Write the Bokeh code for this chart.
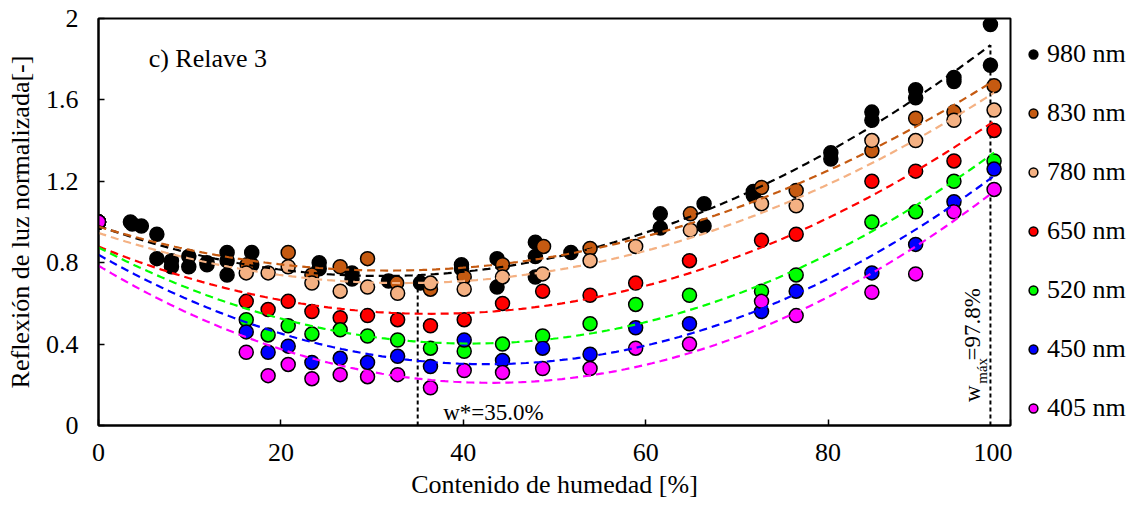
import numpy as np
from bokeh.plotting import figure
from bokeh.layouts import row
from bokeh.models import Legend, LegendItem, CustomJSTickFormatter
from bokeh.core.properties import value
from bokeh.embed import file_html
from bokeh.resources import INLINE

FONT = "Liberation Serif"

series_names = ["980 nm", "830 nm", "780 nm", "650 nm", "520 nm", "450 nm", "405 nm"]
series_colors = ["#000000", "#C55A11", "#F4B183", "#FF0000", "#00FF00", "#0000FF", "#FF00FF"]

x_980 = [0, 3.5, 3.7, 4.7, 6.4, 6.4, 8.0, 8.0, 9.9, 9.9, 11.9, 11.9, 14.1, 14.1, 14.1, 16.8, 16.8,
         24.2, 24.2, 27.8, 27.8, 31.8, 35.3, 39.8, 39.8, 43.7, 43.7, 47.9, 47.9, 47.9, 51.8,
         61.6, 61.6, 66.4, 66.4, 71.8, 71.8, 80.3, 80.3, 84.8, 84.8, 89.6, 89.6, 93.8, 93.8, 97.8, 97.8]
y_980 = [1.0, 1.0, 0.99, 0.98, 0.94, 0.82, 0.81, 0.78, 0.83, 0.78, 0.80, 0.79, 0.85, 0.81, 0.74, 0.85, 0.79,
         0.80, 0.77, 0.75, 0.72, 0.71, 0.70, 0.79, 0.77, 0.82, 0.68, 0.90, 0.83, 0.73, 0.85,
         1.04, 0.97, 1.09, 0.98, 1.15, 1.13, 1.34, 1.31, 1.54, 1.50, 1.65, 1.61, 1.71, 1.69, 1.97, 1.77]

x_830 = [0, 16.3, 20.8, 23.4, 26.5, 29.5, 32.7, 36.4, 40.1, 44.3, 48.8, 53.9, 64.9, 72.7, 76.5, 84.8, 89.6, 93.8, 98.2]
y_830 = [1.0, 0.79, 0.85, 0.74, 0.78, 0.82, 0.70, 0.67, 0.73, 0.79, 0.88, 0.87, 1.04, 1.17, 1.155, 1.35, 1.51, 1.54, 1.67]

x_780 = [0, 16.2, 18.6, 20.8, 23.4, 26.5, 29.5, 32.8, 36.4, 40.1, 44.3, 48.7, 53.9, 58.9, 64.9, 72.7, 76.5, 84.8, 89.6, 93.8, 98.2]
y_780 = [1.0, 0.75, 0.75, 0.78, 0.70, 0.66, 0.68, 0.65, 0.70, 0.67, 0.73, 0.745, 0.81, 0.88, 0.96, 1.09, 1.08, 1.40, 1.40, 1.50, 1.55]

x_650 = [0, 16.2, 18.6, 20.8, 23.4, 26.5, 29.5, 32.8, 36.4, 40.1, 44.3, 48.7, 53.9, 58.9, 64.8, 72.7, 76.5, 84.8, 89.6, 93.8, 98.2]
y_650 = [1.0, 0.61, 0.57, 0.61, 0.56, 0.53, 0.54, 0.52, 0.49, 0.52, 0.60, 0.66, 0.64, 0.70, 0.81, 0.91, 0.94, 1.20, 1.25, 1.30, 1.45]

x_520 = [0, 16.2, 18.6, 20.8, 23.4, 26.5, 29.5, 32.8, 36.4, 40.1, 44.3, 48.7, 53.9, 58.9, 64.8, 72.7, 76.5, 84.8, 89.6, 93.8, 98.2]
y_520 = [1.0, 0.52, 0.445, 0.49, 0.45, 0.47, 0.44, 0.42, 0.38, 0.365, 0.40, 0.44, 0.50, 0.595, 0.64, 0.66, 0.74, 1.00, 1.05, 1.20, 1.30]

x_450 = [0, 16.2, 18.6, 20.8, 23.4, 26.5, 29.5, 32.8, 36.4, 40.1, 44.3, 48.7, 53.9, 58.9, 64.8, 72.7, 76.5, 84.8, 89.6, 93.8, 98.2]
y_450 = [1.0, 0.46, 0.36, 0.39, 0.31, 0.33, 0.31, 0.34, 0.29, 0.42, 0.32, 0.38, 0.35, 0.48, 0.50, 0.56, 0.66, 0.75, 0.89, 1.10, 1.26]

x_405 = [0, 16.2, 18.6, 20.8, 23.4, 26.5, 29.5, 32.8, 36.4, 40.1, 44.3, 48.7, 53.9, 58.9, 64.8, 72.7, 76.5, 84.8, 89.6, 93.8, 98.2]
y_405 = [1.0, 0.36, 0.245, 0.30, 0.23, 0.25, 0.24, 0.25, 0.185, 0.27, 0.26, 0.28, 0.28, 0.38, 0.40, 0.61, 0.54, 0.655, 0.745, 1.05, 1.16]

xs_all = [x_980, x_830, x_780, x_650, x_520, x_450, x_405]
ys_all = [y_980, y_830, y_780, y_650, y_520, y_450, y_405]

x_ticks = [0, 20, 40, 60, 80, 100]
y_ticks = [0, 0.4, 0.8, 1.2, 1.6, 2.0]

w_star = 35.0
w_max = 97.8

p = figure(width=1012, height=510, x_range=(0, 100), y_range=(0, 2),
           output_backend="svg", toolbar_location=None,
           min_border_left=98, min_border_right=2, min_border_top=18, min_border_bottom=85)
p.grid.visible = False
p.outline_line_color = "black"
p.outline_line_width = 2
p.background_fill_color = "white"

for ax in (p.xaxis[0], p.yaxis[0]):
    ax.axis_line_color = "black"
    ax.axis_line_width = 2
    ax.major_tick_in = 6
    ax.major_tick_out = 0
    ax.major_tick_line_width = 1.5
    ax.minor_tick_line_color = None
    ax.major_label_text_font = FONT
    ax.major_label_text_font_size = "26px"
    ax.major_label_text_color = "black"
    ax.axis_label_text_font = FONT
    ax.axis_label_text_font_size = "26px"
    ax.axis_label_text_font_style = "normal"
    ax.axis_label_text_color = "black"

p.xaxis.ticker = x_ticks
p.yaxis.ticker = y_ticks
p.yaxis.formatter = CustomJSTickFormatter(code="return tick.toFixed(1).replace(/\\.0$/, '');")
p.xaxis.axis_label = "Contenido de humedad [%]"
p.yaxis.axis_label = "Reflexión de luz normalizada[-]"
p.xaxis.major_label_standoff = 18
p.xaxis.axis_label_standoff = 6
p.yaxis.major_label_standoff = 20
p.yaxis.axis_label_standoff = 8

# vertical reference lines (heights from the 980 nm fit)
c_black = np.polyfit(x_980, y_980, 2)
p.segment(x0=[w_star, w_max], y0=[0, 0], x1=[w_star, w_max],
          y1=[np.polyval(c_black, w_star), np.polyval(c_black, w_max)],
          line_color="black", line_width=2, line_dash="4 3")

for xs, ys, col in zip(xs_all, ys_all, series_colors):
    p.scatter(xs, ys, size=14, fill_color=col, line_color="black", line_width=1.5)

for xs, ys, col in zip(xs_all, ys_all, series_colors):
    c = np.polyfit(xs, ys, 2)
    xx = np.linspace(0, max(xs), 200)
    p.line(xx, np.polyval(c, xx), line_color=col, line_width=2.2, line_dash="8 5")

p.text(x=[5.5], y=[1.805], text=["c) Relave 3"], text_font=value(FONT), text_font_size="26px",
       text_color="black", text_baseline="alphabetic", text_align="left")
p.text(x=[37.8], y=[0.065], text=["w*=35.0%"], text_font=value(FONT), text_font_size="23px",
       text_color="black", text_baseline="alphabetic", text_align="left")
p.text(x=[95.8], y=[0.115], text=["w"], angle=np.pi / 2, text_font=value(FONT), text_font_size="23px",
       text_color="black", text_baseline="alphabetic", text_align="left")
p.text(x=[96.9], y=[0.205], text=["máx"], angle=np.pi / 2, text_font=value(FONT), text_font_size="15px",
       text_color="black", text_baseline="alphabetic", text_align="left")
p.text(x=[95.8], y=[0.32], text=["=97.8%"], angle=np.pi / 2, text_font=value(FONT), text_font_size="23px",
       text_color="black", text_baseline="alphabetic", text_align="left")

# legend panel (separate figure placed right of the plot; its frame aligns with the main frame)
p2 = figure(width=122, height=510, x_range=(0, 1), y_range=(0, 1),
            x_axis_type=None, y_axis_type=None,
            output_backend="svg", toolbar_location=None,
            min_border_left=0, min_border_right=0, min_border_top=0, min_border_bottom=0)
p2.grid.visible = False
p2.outline_line_color = None
p2.background_fill_color = "white"
p2.border_fill_color = "white"

leg_renderers = []
for col in series_colors:
    leg_renderers.append(p2.scatter(x=[float("nan")], y=[float("nan")], size=14,
                                    fill_color=col, line_color="black", line_width=1.5))

legend = Legend(items=[LegendItem(label=n, renderers=[r]) for n, r in zip(series_names, leg_renderers)],
                location=(10, 2), orientation="vertical")
legend.label_text_font = FONT
legend.label_text_font_size = "26px"
legend.label_text_color = "black"
legend.glyph_width = 22
legend.glyph_height = 22
legend.label_height = 22
legend.label_standoff = 3
legend.spacing = 29
legend.padding = 0
legend.margin = 0
legend.background_fill_alpha = 0
legend.border_line_alpha = 0
p2.add_layout(legend, "center")

layout = row(p, p2, spacing=0)
open("out.html", "w").write(file_html(layout, INLINE))
